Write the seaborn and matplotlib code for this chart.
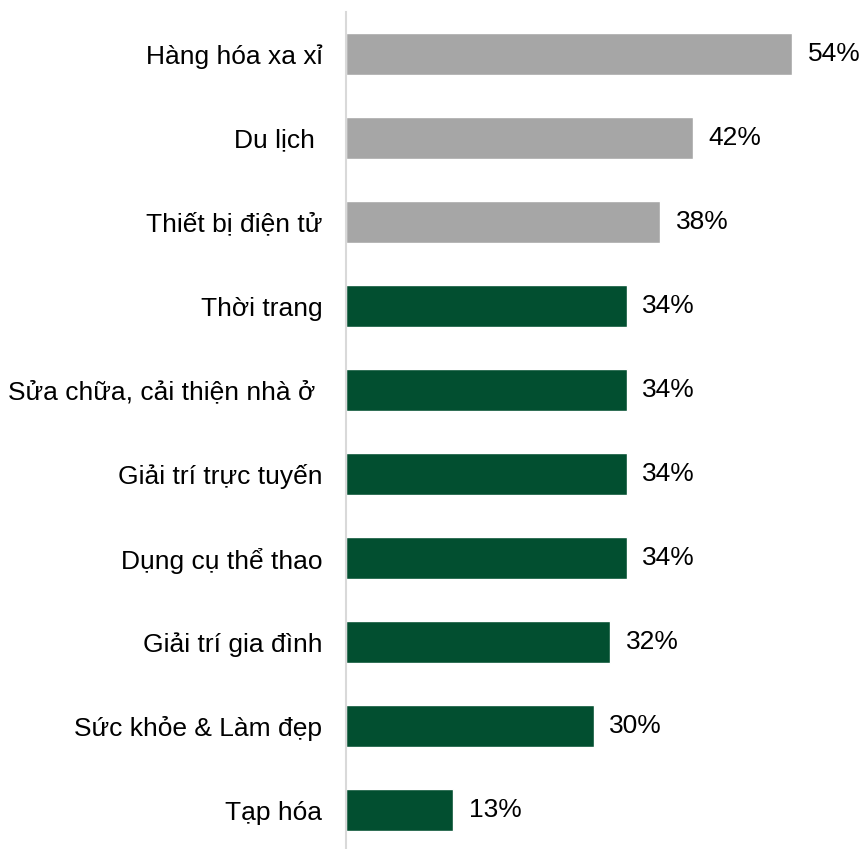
import matplotlib
matplotlib.use("Agg")
import matplotlib.pyplot as plt
import seaborn as sns
import pandas as pd

categories = ["Hàng hóa xa xỉ", "Du lịch ", "Thiết bị điện tử", "Thời trang",
              "Sửa chữa, cải thiện nhà ở ", "Giải trí trực tuyến", "Dụng cụ thể thao",
              "Giải trí gia đình", "Sức khỏe & Làm đẹp", "Tạp hóa"]
values = [54, 42, 38, 34, 34, 34, 34, 32, 30, 13]
groups = ["top", "top", "top", "rest", "rest", "rest", "rest", "rest", "rest", "rest"]
palette = {"top": "#A6A6A6", "rest": "#024F30"}

sns.set_theme(style="white")
plt.rcParams['font.family'] = ['Liberation Sans', 'DejaVu Sans']

df = pd.DataFrame({"cat": categories, "val": values, "grp": groups})

fig = plt.figure(figsize=(8.64, 8.49), dpi=100)
ax = fig.add_axes([346/864, 0.0, 1 - 346/864 - 6/864, 1 - 12/849])
sns.barplot(data=df, y="cat", x="val", hue="grp", palette=palette, dodge=False,
            width=0.5, legend=False, ax=ax, orient="h", saturation=1)

for i, v in enumerate(values):
    ax.text(v + 1.9, i, f"{v}%", va="center", ha="left", fontsize=19, color="#000000")

ax.set_xlim(0, 62)
ax.set_ylim(len(categories) - 0.54, -0.5)
ax.set_xlabel("")
ax.set_ylabel("")
ax.set_xticks([])
ax.tick_params(axis="y", length=0, pad=17, labelsize=19, labelcolor="#000000")
for s in ["top", "right", "bottom"]:
    ax.spines[s].set_visible(False)
ax.spines["left"].set_color("#D9D9D9")
ax.spines["left"].set_linewidth(1.5)

fig.savefig("out.png", dpi=100)
